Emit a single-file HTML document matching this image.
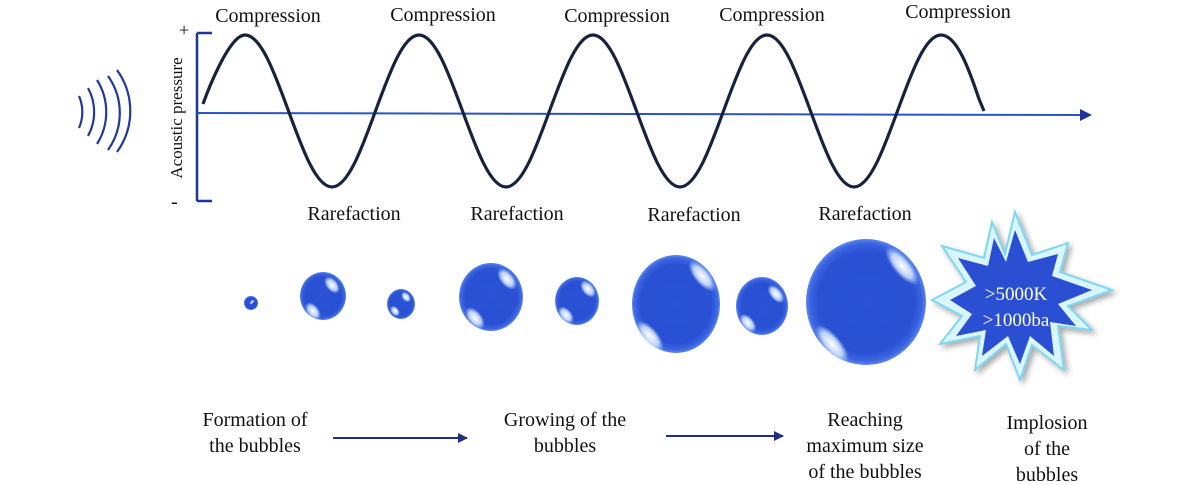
<!DOCTYPE html>
<html><head><meta charset="utf-8"><style>
html,body{margin:0;padding:0;background:#fff;}
svg{display:block;}
text{font-family:"Liberation Serif",serif;fill:#111;}
</style></head><body>
<svg width="1200" height="485" viewBox="0 0 1200 485" xmlns="http://www.w3.org/2000/svg">
<defs>
<radialGradient id="b" cx="50%" cy="50%" r="50%">
<stop offset="0" stop-color="#2b53d6"/><stop offset="0.8" stop-color="#2a50d4"/><stop offset="0.93" stop-color="#3a64e0"/><stop offset="1" stop-color="#5c86ee"/>
</radialGradient>
<radialGradient id="h" cx="50%" cy="50%" r="50%"><stop offset="0" stop-color="#fff" stop-opacity="1"/><stop offset="0.6" stop-color="#e0f0ff" stop-opacity="0.8"/><stop offset="1" stop-color="#bfe0ff" stop-opacity="0"/></radialGradient>
<filter id="sh" x="-20%" y="-20%" width="140%" height="140%"><feDropShadow dx="3" dy="3" stdDeviation="3" flood-color="#000" flood-opacity="0.35"/></filter>
<marker id="ar" markerWidth="10" markerHeight="10" refX="9" refY="5" orient="auto" markerUnits="userSpaceOnUse"><path d="M0,0 L10,5 L0,10 z" fill="#1f2f86"/></marker>
</defs>
<g fill="none" stroke="#1f3a9a" stroke-width="2.2">
<path d="M79,96 A40,40 0 0 1 79,128"/>
<path d="M88,88 A50,50 0 0 1 88,136"/>
<path d="M97,80 A60,60 0 0 1 97,144"/>
<path d="M108,76 A64,64 0 0 1 108,150"/>
<path d="M117,70 A70,70 0 0 1 117,152"/>
</g>
<g stroke="#1f3399" stroke-width="2.5">
<line x1="197" y1="33" x2="197" y2="201"/>
<line x1="197" y1="33" x2="212" y2="33"/>
<line x1="197" y1="201" x2="212" y2="201"/>
</g>
<line x1="197" y1="113" x2="1082" y2="115" stroke="#2a55c0" stroke-width="2"/>
<path d="M1080,109 L1092,115 L1080,121 z" fill="#1f3399"/>
<text x="179" y="36" font-size="18">+</text>
<text x="171" y="208" font-size="20">-</text>
<text transform="translate(182,118) rotate(-90)" text-anchor="middle" font-size="17">Acoustic pressure</text>
<path fill="none" stroke="#17223f" stroke-width="3.2" d="M203,104 C208,90 229.3,35 245,35
c15.7,0 29.3,37.1 43.5,76 c14.2,38.9 27.8,76 43.5,76 c15.7,0 29.3,-37.1 43.5,-76
c14.2,-38.9 27.8,-76 43.5,-76 c15.7,0 29.3,37.1 43.5,76 c14.2,38.9 27.8,76 43.5,76 c15.7,0 29.3,-37.1 43.5,-76
c14.2,-38.9 27.8,-76 43.5,-76 c15.7,0 29.3,37.1 43.5,76 c14.2,38.9 27.8,76 43.5,76 c15.7,0 29.3,-37.1 43.5,-76
c14.2,-38.9 27.8,-76 43.5,-76 c15.7,0 29.3,37.1 43.5,76 c14.2,38.9 27.8,76 43.5,76 c15.7,0 29.3,-37.1 43.5,-76
c14.2,-38.9 27.8,-76 43.5,-76 c15.7,0 28,34 38,64 l5,12"/>
<g font-size="20" text-anchor="middle">
<text x="268" y="22">Compression</text>
<text x="443" y="21">Compression</text>
<text x="617" y="22">Compression</text>
<text x="772" y="21">Compression</text>
<text x="958" y="18">Compression</text>
<text x="354" y="220">Rarefaction</text>
<text x="517" y="220">Rarefaction</text>
<text x="694" y="221">Rarefaction</text>
<text x="865" y="220">Rarefaction</text>
</g>
<g>
<circle cx="251" cy="303" r="7" fill="url(#b)"/>
<ellipse cx="323" cy="296" rx="23" ry="24" fill="url(#b)"/>
<ellipse cx="401" cy="304" rx="14" ry="15" fill="url(#b)"/>
<ellipse cx="491" cy="297" rx="32" ry="34" fill="url(#b)"/>
<ellipse cx="577" cy="301" rx="22" ry="24" fill="url(#b)"/>
<ellipse cx="676" cy="304" rx="44" ry="49" fill="url(#b)"/>
<ellipse cx="762" cy="306" rx="26" ry="29" fill="url(#b)"/>
<ellipse cx="866" cy="302" rx="60" ry="63" fill="url(#b)"/>
</g>
<g fill="url(#h)">
<ellipse cx="252" cy="302" rx="1.5" ry="3" transform="rotate(45 252 302)"/>
<ellipse cx="332" cy="285" rx="6" ry="10" transform="rotate(-40 332 285)"/>
<ellipse cx="313" cy="311" rx="6" ry="10" transform="rotate(-40 313 311)"/>
<ellipse cx="406" cy="297" rx="4" ry="6" transform="rotate(-40 406 297)"/>
<ellipse cx="395" cy="311" rx="4" ry="6" transform="rotate(-40 395 311)"/>
<ellipse cx="507" cy="279" rx="7" ry="13" transform="rotate(-40 507 279)"/>
<ellipse cx="475" cy="318" rx="7" ry="13" transform="rotate(-40 475 318)"/>
<ellipse cx="588" cy="289" rx="6" ry="10" transform="rotate(-40 588 289)"/>
<ellipse cx="566" cy="315" rx="6" ry="10" transform="rotate(-40 566 315)"/>
<ellipse cx="702" cy="276" rx="8" ry="19" transform="rotate(-40 702 276)"/>
<ellipse cx="650" cy="336" rx="8" ry="19" transform="rotate(-40 650 336)"/>
<ellipse cx="776" cy="294" rx="6" ry="11" transform="rotate(-40 776 294)"/>
<ellipse cx="748" cy="323" rx="6" ry="11" transform="rotate(-40 748 323)"/>
<ellipse cx="902" cy="266" rx="9" ry="24" transform="rotate(-40 902 266)"/>
<ellipse cx="832" cy="344" rx="9" ry="24" transform="rotate(-40 832 344)"/>
</g>
<g filter="url(#sh)">
<polygon fill="#d9f6ff" stroke="#7fd6f0" stroke-width="2" points="1015,212 1032,255 1068,243 1060,272 1112,290 1068,306 1092,330 1058,326 1064,370 1032,345 1020,380 1006,344 975,370 980,336 940,344 962,316 932,300 966,282 942,246 984,258 992,222 1005,254"/>
</g>
<polygon fill="#2b4fd3" points="1015,230 1028,262 1058,254 1052,276 1092,290 1058,304 1076,326 1050,322 1054,356 1030,336 1020,364 1008,336 982,356 986,330 956,336 972,314 950,300 976,286 958,258 988,266 994,238 1006,262"/>
<g font-size="19" text-anchor="middle">
<text x="1016" y="300" style="fill:#fff">&gt;5000K</text>
<text x="1016" y="326" style="fill:#fff">&gt;1000ba</text>
</g>
<g font-size="20" text-anchor="middle">
<text x="255" y="426">Formation of</text>
<text x="255" y="452">the bubbles</text>
<text x="565" y="426">Growing of the</text>
<text x="565" y="452">bubbles</text>
<text x="865" y="426">Reaching</text>
<text x="865" y="452">maximum size</text>
<text x="865" y="478">of the bubbles</text>
<text x="1047" y="429">Implosion</text>
<text x="1047" y="455">of the</text>
<text x="1047" y="481">bubbles</text>
</g>
<line x1="333" y1="438" x2="467" y2="438" stroke="#1f2f86" stroke-width="2" marker-end="url(#ar)"/>
<line x1="666" y1="436" x2="783" y2="436" stroke="#1f2f86" stroke-width="2" marker-end="url(#ar)"/>
</svg>
</body></html>
